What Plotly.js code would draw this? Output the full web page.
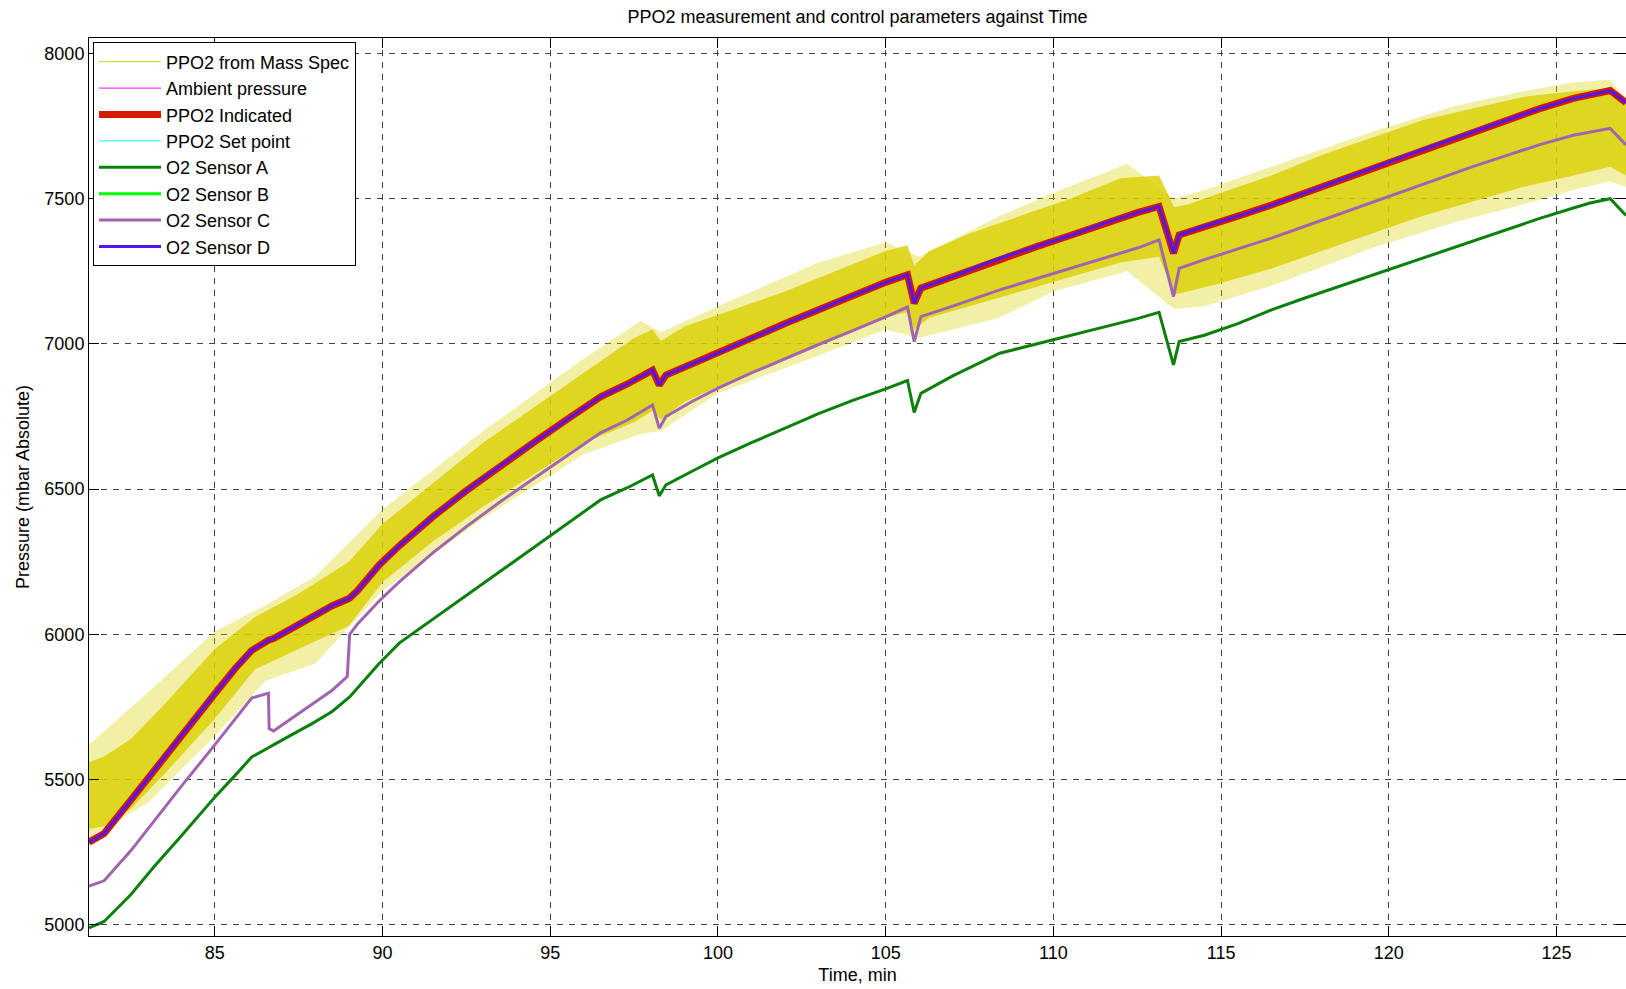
<!DOCTYPE html>
<html>
<head>
<meta charset="utf-8">
<script src="https://cdn.plot.ly/plotly-3.0.1.min.js"></script>
<style>
html,body{margin:0;padding:0;background:#fff;}
#chart{width:1626px;height:989px;}
</style>
</head>
<body>
<div id="chart"></div>
<script>
// ---- Data ----
// Time (min) for the sensor / indicated traces
const time = [81.25, 81.7, 82.5, 83.2, 84.0, 85.0, 85.6, 86.1, 86.6, 86.62,
  86.75, 87.3, 87.9, 88.5, 88.95, 89.02, 89.25, 89.9, 90.5, 91.5,
  92.5, 93.5, 94.5, 95.5, 96.5, 97.3, 98.05, 98.25, 98.45, 99.2,
  100.0, 101.0, 102.0, 103.0, 104.0, 105.0, 105.65, 105.85, 106.05, 107.0,
  108.4, 109.5, 110.5, 111.5, 112.5, 113.15, 113.58, 113.75, 114.5, 115.5,
  116.5, 117.5, 118.5, 119.5, 120.5, 121.5, 122.5, 123.5, 124.5, 125.5,
  126.0, 126.6, 127.07];

// PPO2 Indicated (mbar)
const ppo2Indicated = [5285, 5315, 5430, 5535, 5651, 5796, 5882, 5945, 5980, 5981,
  5986, 6021, 6060, 6099, 6121, 6125, 6150, 6239, 6305, 6405,
  6495, 6580, 6660, 6740, 6818, 6862, 6910, 6858, 6893, 6930,
  6968, 7020, 7070, 7118, 7165, 7212, 7238, 7140, 7192, 7232,
  7295, 7335, 7373, 7415, 7452, 7473, 7312, 7375, 7405, 7440,
  7478, 7520, 7563, 7605, 7647, 7689, 7730, 7770, 7810, 7845,
  7858, 7872, 7830];

// O2 Sensor D (overlaps PPO2 Indicated)
const sensorD = [5285, 5315, 5430, 5535, 5651, 5796, 5882, 5945, 5980, 5981,
  5986, 6021, 6060, 6099, 6121, 6125, 6150, 6239, 6305, 6405,
  6495, 6580, 6660, 6740, 6818, 6862, 6910, 6858, 6893, 6930,
  6968, 7020, 7070, 7118, 7165, 7212, 7238, 7140, 7192, 7232,
  7295, 7335, 7373, 7415, 7452, 7473, 7312, 7375, 7405, 7440,
  7478, 7520, 7563, 7605, 7647, 7689, 7730, 7770, 7810, 7845,
  7858, 7872, 7830];

// O2 Sensor C
const sensorC = [5134, 5152, 5256, 5361, 5477, 5620, 5709, 5781, 5798, 5676,
  5668, 5712, 5760, 5808, 5855, 6000, 6035, 6115, 6181, 6281,
  6371, 6456, 6536, 6616, 6694, 6738, 6790, 6710, 6750, 6800,
  6848, 6900, 6950, 6998, 7045, 7093, 7127, 7008, 7094, 7130,
  7186, 7225, 7260, 7295, 7330, 7358, 7163, 7260, 7290, 7327,
  7364, 7405, 7446, 7487, 7528, 7569, 7610, 7648, 7686, 7718,
  7730, 7742, 7685];

// O2 Sensor A
const sensorA = [4990, 5012, 5105, 5202, 5306, 5440, 5514, 5578, 5610, 5611,
  5620, 5655, 5693, 5735, 5778, 5785, 5815, 5900, 5970, 6052,
  6134, 6216, 6298, 6380, 6463, 6505, 6549, 6477, 6515, 6560,
  6608, 6660, 6710, 6760, 6805, 6845, 6874, 6764, 6830, 6890,
  6968, 7000, 7030, 7058, 7087, 7109, 6928, 7008, 7030, 7070,
  7117, 7158, 7197, 7237, 7276, 7315, 7355, 7393, 7432, 7468,
  7485, 7500, 7442];

// PPO2 from Mass Spec: noisy trace, read as envelopes
// dense core of the noise band
const massTime = [81.25, 81.7, 82.5, 83.5, 85.0, 86.2, 87.5, 89.0, 90.0, 91.5,
  93.0, 94.5, 96.0, 97.5, 98.05, 98.3, 99.0, 100.5, 102.0, 103.5,
  105.0, 105.65, 105.85, 106.3, 107.5, 109.0, 110.5, 112.0, 113.15, 113.6,
  114.0, 115.0, 116.5, 118.0, 119.5, 121.0, 122.5, 124.0, 125.5, 126.6, 127.07];
const massUpper = [5560, 5580, 5640, 5760, 5950, 6060, 6140, 6250, 6380, 6520,
  6660, 6780, 6900, 7020, 7050, 7010, 7060, 7120, 7180, 7250,
  7320, 7340, 7270, 7320, 7380, 7440, 7500, 7570, 7580, 7470,
  7480, 7520, 7580, 7650, 7710, 7770, 7810, 7850, 7870, 7880, 7820];
const massLower = [5330, 5340, 5400, 5520, 5710, 5880, 5950, 6030, 6180, 6320,
  6440, 6550, 6660, 6730, 6770, 6740, 6800, 6880, 6950, 7020,
  7090, 7110, 7050, 7090, 7130, 7180, 7230, 7280, 7300, 7170,
  7180, 7210, 7260, 7320, 7380, 7440, 7490, 7540, 7580, 7610, 7580];
// extreme spikes of the noise
const spikeTime = [81.25, 83.0, 85.0, 86.5, 88.0, 90.0, 93.0, 96.0, 97.7, 98.3,
  100.0, 103.0, 105.0, 106.0, 108.4, 110.0, 112.2, 113.6, 114.5, 116.5,
  119.5, 122.0, 124.0, 125.5, 126.6, 127.07];
const spikeUpper = [5620, 5800, 6010, 6100, 6200, 6430, 6700, 6950, 7080, 7040,
  7130, 7280, 7350, 7300, 7440, 7520, 7620, 7500, 7530, 7610,
  7730, 7820, 7870, 7900, 7910, 7840];
const spikeLower = [5300, 5420, 5650, 5840, 5900, 6150, 6400, 6620, 6690, 6700,
  6830, 6960, 7050, 7020, 7090, 7180, 7250, 7120, 7130, 7200,
  7330, 7420, 7480, 7530, 7560, 7540];

const xTicks = [85, 90, 95, 100, 105, 110, 115, 120, 125];
const yTicks = [5000, 5500, 6000, 6500, 7000, 7500, 8000];

// ---- Styles ----
const FONT = 'Liberation Sans, Arial, sans-serif';
const YELLOW = '#dcd200';

const traces = [
  {name: 'PPO2 from Mass Spec', x: [null], y: [null], mode: 'lines',
   line: {color: YELLOW, width: 1}},
  {x: spikeTime, y: spikeLower, mode: 'lines', line: {width: 0, color: YELLOW},
   showlegend: false, hoverinfo: 'skip'},
  {x: spikeTime, y: spikeUpper, mode: 'lines', line: {width: 0, color: YELLOW},
   fill: 'tonexty', fillcolor: 'rgba(218,208,0,0.35)', showlegend: false, hoverinfo: 'skip'},
  {x: massTime, y: massLower, mode: 'lines', line: {width: 0, color: YELLOW},
   showlegend: false, hoverinfo: 'skip'},
  {x: massTime, y: massUpper, mode: 'lines', line: {width: 0, color: YELLOW},
   fill: 'tonexty', fillcolor: 'rgba(218,208,0,0.8)', showlegend: false, hoverinfo: 'skip'},
  {name: 'Ambient pressure', x: [null], y: [null], mode: 'lines',
   line: {color: '#ff00ff', width: 1}},
  {name: 'PPO2 Indicated', x: time, y: ppo2Indicated, mode: 'lines',
   line: {color: '#d41a00', width: 7}},
  {name: 'PPO2 Set point', x: [null], y: [null], mode: 'lines',
   line: {color: '#00ffff', width: 1}},
  {name: 'O2 Sensor A', x: time, y: sensorA, mode: 'lines',
   line: {color: '#0b800b', width: 3}},
  {name: 'O2 Sensor B', x: [null], y: [null], mode: 'lines',
   line: {color: '#00ff00', width: 3}},
  {name: 'O2 Sensor C', x: time, y: sensorC, mode: 'lines',
   line: {color: '#a263b0', width: 3}},
  {name: 'O2 Sensor D', x: time, y: sensorD, mode: 'lines',
   line: {color: '#5018f0', width: 3}}
];

const axisCommon = {
  showline: true, linecolor: '#000', linewidth: 1, mirror: 'ticks',
  ticks: 'inside', ticklen: 10, tickcolor: '#000', tickwidth: 1,
  showgrid: true, gridcolor: '#404040', gridwidth: 1, griddash: '6px,6px',
  zeroline: false, automargin: false,
  tickfont: {family: FONT, size: 18, color: '#000'}
};

const layout = {
  width: 1626, height: 989,
  margin: {l: 89, r: 0, t: 38, b: 53, pad: 0},
  paper_bgcolor: '#fff', plot_bgcolor: '#fff',
  font: {family: FONT, size: 18, color: '#000'},
  title: {text: 'PPO2 measurement and control parameters against Time',
    font: {family: FONT, size: 18, color: '#000'},
    x: 0.5, xref: 'paper', y: 1 - 16.6 / 989, yref: 'container', yanchor: 'middle'},
  xaxis: Object.assign({}, axisCommon, {
    range: [81.25, 127.07], tickvals: xTicks, ticktext: xTicks.map(String),
    title: {text: 'Time, min', font: {family: FONT, size: 18, color: '#000'}, standoff: 6}
  }),
  yaxis: Object.assign({}, axisCommon, {
    range: [4962, 8053], tickvals: yTicks, ticktext: yTicks.map(String),
    title: {text: 'Pressure (mbar Absolute)', font: {family: FONT, size: 18, color: '#000'}, standoff: 10}
  }),
  showlegend: true,
  legend: {x: 0.0026, xanchor: 'left', y: 0.995, yanchor: 'top',
    bgcolor: '#fff', bordercolor: '#000', borderwidth: 1,
    font: {family: FONT, size: 18, color: '#000'}, itemwidth: 62,
    traceorder: 'normal'}
};

Plotly.newPlot('chart', traces, layout, {displayModeBar: false, staticPlot: true});
</script>
</body>
</html>
